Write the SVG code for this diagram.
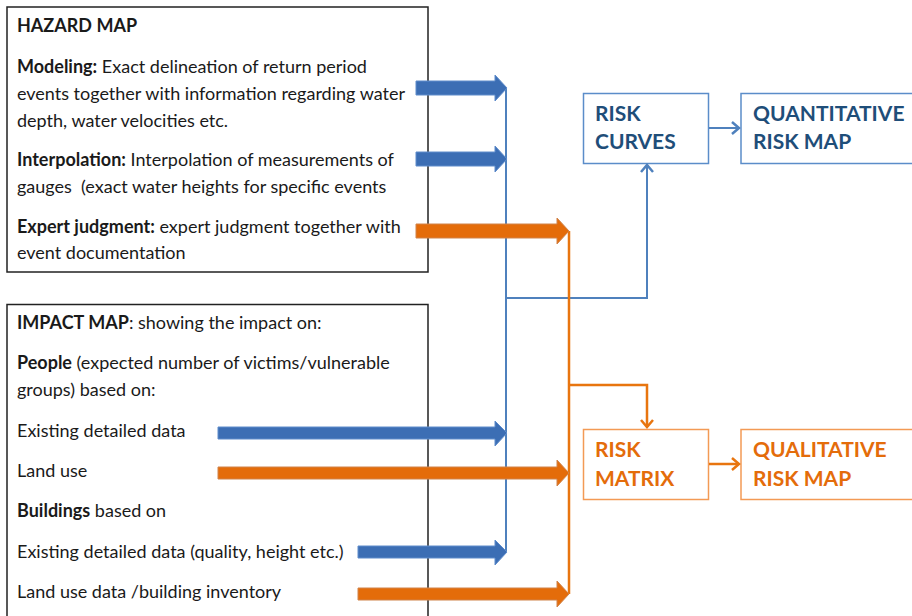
<svg xmlns="http://www.w3.org/2000/svg" width="912" height="616" viewBox="0 0 912 616">
<defs>
<style>
.t{font-family:Lato,"Open Sans","Liberation Sans",sans-serif;font-size:18px;fill:#1a1a1a}
.b{font-weight:bold}
.pre{white-space:pre}
.box{fill:#fff;stroke:#222;stroke-width:1.5}
.hb{font-family:Lato,"Open Sans","Liberation Sans",sans-serif;font-size:21px;font-weight:bold}
.bl{fill:#1F4E79}
.or{fill:#E46C0A}
.rb{fill:#fff;stroke:#5B8DC9;stroke-width:1.5}
.ob{fill:#fff;stroke:#F39A55;stroke-width:1.5}
.ba{fill:#3C6EB4;stroke:#5E8CCB;stroke-width:1}
.oa{fill:#E46C0A;stroke:#D0834A;stroke-width:1}
.bline{fill:none;stroke:#4F81BD;stroke-width:2}
.oline{fill:none;stroke:#E8750F;stroke-width:2.5}
</style>
<marker id="mb" markerUnits="userSpaceOnUse" markerWidth="16" markerHeight="16" refX="11" refY="8" orient="auto">
<path d="M4,2 L11,8 L4,14" fill="none" stroke="#4F81BD" stroke-width="2.5"/>
</marker>
<marker id="mo" markerUnits="userSpaceOnUse" markerWidth="16" markerHeight="16" refX="11" refY="8" orient="auto">
<path d="M4,2 L11,8 L4,14" fill="none" stroke="#E8750F" stroke-width="2.5"/>
</marker>
</defs>
<rect width="912" height="616" fill="#fff"/>

<g id="hazard-map">
<rect class="box" x="7" y="7" width="421" height="265"/>
<text class="t b" x="17" y="32">HAZARD MAP</text>
<text class="t" x="17" y="73"><tspan class="b">Modeling:</tspan> Exact delineation of return period</text>
<text class="t" x="17" y="100">events together with information regarding water</text>
<text class="t" x="17" y="127">depth, water velocities etc.</text>
<text class="t" x="17" y="166"><tspan class="b">Interpolation:</tspan> Interpolation of measurements of</text>
<text class="t pre" x="17" y="193">gauges  (exact water heights for specific events</text>
<text class="t" x="17" y="233"><tspan class="b">Expert judgment:</tspan> expert judgment together with</text>
<text class="t" x="17" y="259">event documentation</text>
</g>

<g id="impact-map">
<path class="box" d="M7,620 L7,304.5 L428,304.5 L428,620"/>
<text class="t" x="17" y="329"><tspan class="b">IMPACT MAP</tspan>: showing the impact on:</text>
<text class="t" x="17" y="369"><tspan class="b">People</tspan> (expected number of victims/vulnerable</text>
<text class="t" x="17" y="396">groups) based on:</text>
<text class="t" x="17" y="437">Existing detailed data</text>
<text class="t" x="17" y="477">Land use</text>
<text class="t" x="17" y="517"><tspan class="b">Buildings</tspan> based on</text>
<text class="t" x="17" y="558">Existing detailed data (quality, height etc.)</text>
<text class="t" x="17" y="598">Land use data /building inventory</text>
</g>

<g id="risk-curves">
<rect class="rb" x="583.5" y="93.5" width="125" height="70"/>
<text class="hb bl" x="595" y="121">RISK</text>
<text class="hb bl" x="595" y="149">CURVES</text>
</g>
<g id="quantitative-risk-map">
<rect class="rb" x="741" y="93.5" width="180" height="70"/>
<text class="hb bl" x="753" y="121">QUANTITATIVE</text>
<text class="hb bl" x="753" y="149">RISK MAP</text>
</g>
<g id="risk-matrix">
<rect class="ob" x="583.5" y="429.5" width="125" height="70"/>
<text class="hb or" x="595" y="457">RISK</text>
<text class="hb or" x="595" y="486">MATRIX</text>
</g>
<g id="qualitative-risk-map">
<rect class="ob" x="741" y="429.5" width="180" height="70"/>
<text class="hb or" x="753" y="457">QUALITATIVE</text>
<text class="hb or" x="753" y="486">RISK MAP</text>
</g>

<g id="connectors">
<line class="bline" x1="506" y1="88" x2="506" y2="552"/>
<path class="bline" d="M506,298 L647,298 L647,165" marker-end="url(#mb)"/>
<line class="oline" x1="569" y1="231" x2="569" y2="594"/>
<path class="oline" d="M569,385 L647,385 L647,427" marker-end="url(#mo)"/>
<line class="bline" x1="709" y1="128" x2="739" y2="128" marker-end="url(#mb)"/>
<line class="oline" x1="709" y1="464" x2="739" y2="464" marker-end="url(#mo)"/>
<polygon class="ba" points="416,81 495,81 495,75 507,88 495,101 495,95 416,95"/>
<polygon class="ba" points="416,152 495,152 495,146 507,159 495,172 495,166 416,166"/>
<polygon class="oa" points="416,224 557,224 557,218 569,231 557,244 557,238 416,238"/>
<polygon class="ba" points="218,427 495,427 495,421 507,433 495,446 495,439 218,439"/>
<polygon class="oa" points="218,467 557,467 557,460 569,473 557,486 557,479 218,479"/>
<polygon class="ba" points="358,546 495,546 495,540 507,552 495,565 495,558 358,558"/>
<polygon class="oa" points="358,588 557,588 557,581 569,594 557,607 557,600 358,600"/>
</g>
</svg>
